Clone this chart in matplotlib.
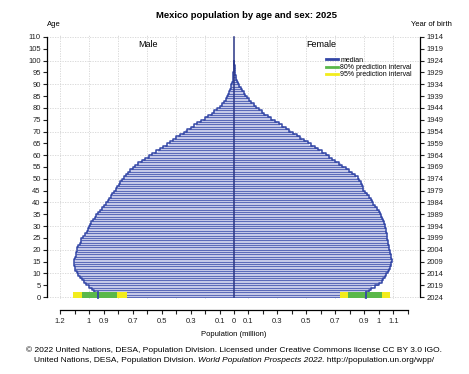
import numpy as np
import matplotlib
matplotlib.use("Agg")
import matplotlib.pyplot as plt
from matplotlib.lines import Line2D

plt.rcParams['font.family'] = ['Liberation Sans', 'DejaVu Sans']

# Population by single year of age 0..100 (millions)
ages = np.arange(0, 101)
male = [0.935, 0.945, 0.955, 0.97, 0.99, 1.01, 1.03, 1.04, 1.06, 1.07,
        1.08, 1.09, 1.097, 1.10, 1.103, 1.103, 1.10, 1.095, 1.09, 1.085,
        1.08, 1.08, 1.07, 1.06, 1.055, 1.05, 1.03, 1.02, 1.009, 1.005,
        1.00, 0.99, 0.98, 0.965, 0.955, 0.945, 0.93, 0.92, 0.905, 0.89,
        0.878, 0.865, 0.855, 0.845, 0.835, 0.82, 0.81, 0.80, 0.79, 0.78,
        0.765, 0.755, 0.74, 0.725, 0.71, 0.69, 0.67, 0.648, 0.625, 0.60,
        0.575, 0.55, 0.525, 0.50, 0.475, 0.45, 0.43, 0.41, 0.385, 0.36,
        0.335, 0.31, 0.29, 0.265, 0.24, 0.215, 0.19, 0.165, 0.145, 0.125,
        0.105, 0.09, 0.076, 0.064, 0.053, 0.045, 0.038, 0.031, 0.025, 0.02,
        0.015, 0.011, 0.008, 0.006, 0.004, 0.003, 0.002, 0.002, 0.001, 0.001,
        0.001]
female = [0.908, 0.915, 0.925, 0.94, 0.955, 0.99, 1.01, 1.025, 1.035, 1.045,
          1.053, 1.065, 1.075, 1.08, 1.085, 1.087, 1.087, 1.085, 1.08, 1.075,
          1.072, 1.07, 1.065, 1.06, 1.058, 1.055, 1.053, 1.052, 1.05, 1.045,
          1.042, 1.04, 1.035, 1.025, 1.018, 1.01, 1.005, 0.99, 0.98, 0.965,
          0.955, 0.95, 0.935, 0.925, 0.915, 0.895, 0.89, 0.885, 0.88, 0.87,
          0.86, 0.845, 0.825, 0.805, 0.785, 0.76, 0.735, 0.71, 0.685, 0.665,
          0.645, 0.62, 0.595, 0.57, 0.545, 0.52, 0.495, 0.47, 0.445, 0.42,
          0.395, 0.37, 0.345, 0.32, 0.295, 0.27, 0.245, 0.22, 0.20, 0.18,
          0.16, 0.145, 0.125, 0.11, 0.095, 0.082, 0.072, 0.06, 0.05, 0.04,
          0.032, 0.025, 0.019, 0.014, 0.01, 0.008, 0.006, 0.004, 0.003, 0.002,
          0.001]

# prediction intervals for age 0 (low, high)
male_80 = [0.81, 1.046]
male_95 = [0.74, 1.108]
female_80 = [0.788, 1.018]
female_95 = [0.73, 1.076]

x_ticks = np.round(np.arange(-1.2, 1.21, 0.1), 1)
x_labels = {-1.2: "1.2", -1.0: "1", -0.9: "0.9", -0.7: "0.7", -0.5: "0.5",
            -0.3: "0.3", -0.1: "0.1", 0.0: "0", 0.1: "0.1", 0.3: "0.3",
            0.5: "0.5", 0.7: "0.7", 0.9: "0.9", 1.0: "1", 1.1: "1.1"}
age_ticks = np.arange(0, 111, 5)
year_labels = [str(2024 - a) for a in age_ticks]

navy = "#3346a6"
lav = "#c4c8e8"
green = "#5ab84a"
yellow = "#f2ec1c"

fig = plt.figure(figsize=(4.69, 3.74), dpi=100)
ax = fig.add_axes([0.1002, 0.1995, 0.7953, 0.708])

male = np.array(male)
female = np.array(female)

# grid
for gx in [-1.2, -1.0, -0.8, -0.6, -0.4, -0.2, 0.1, 0.3, 0.5, 0.7, 0.9, 1.1]:
    ax.axvline(gx, color="#d4d4d4", lw=0.6, ls=(0, (1.5, 1.5)), zorder=0)
for gy in range(0, 111, 10):
    ax.axhline(gy, color="#d4d4d4", lw=0.6, ls=(0, (1.5, 1.5)), zorder=0)

# bars
ax.barh(ages, -male, height=1.0, color=lav, edgecolor="none", zorder=1)
ax.barh(ages, female, height=1.0, color=lav, edgecolor="none", zorder=1)
ax.hlines(ages, -male, female, color=navy, lw=0.6, alpha=0.85, zorder=2)

# median outline
ax.step(-male, ages, where="mid", color=navy, lw=1.1, zorder=3)
ax.step(female, ages, where="mid", color=navy, lw=1.1, zorder=3)
ax.plot([0, 0], [0, 110], color="#2a3585", lw=1.1, zorder=4)

# prediction intervals at age 0
yc, hh = 0.85, 2.6
ax.barh(yc, male_95[1] - male_95[0], left=-male_95[1], height=hh, color=yellow, zorder=5)
ax.barh(yc, male_80[1] - male_80[0], left=-male_80[1], height=hh, color=green, zorder=6)
ax.barh(yc, female_95[1] - female_95[0], left=female_95[0], height=hh, color=yellow, zorder=5)
ax.barh(yc, female_80[1] - female_80[0], left=female_80[0], height=hh, color=green, zorder=6)
ax.plot([-male[0], -male[0]], [-0.4, 2.1], color=navy, lw=1.3, zorder=7)
ax.plot([female[0], female[0]], [-0.4, 2.1], color=navy, lw=1.3, zorder=7)

ax.set_xlim(-1.29, 1.283)
ax.set_ylim(-1, 111)

# axes styling
ax.spines['top'].set_visible(False)
ax.spines['right'].set_visible(False)
ax.spines['left'].set_bounds(0, 110)
ax.spines['bottom'].set_bounds(-1.2, 1.2)
ax.spines['bottom'].set_position(('outward', 7.5))
for s in ['left', 'bottom']:
    ax.spines[s].set_linewidth(0.9)

ax.set_xticks(x_ticks)
ax.set_xticklabels([x_labels.get(float(t), "") for t in x_ticks])
ax.set_yticks(age_ticks)
ax.tick_params(axis='both', labelsize=5.5, length=3, width=0.8, pad=1.5, colors="#222222")
ax.tick_params(axis='x', pad=3)

ax2 = ax.twinx()
ax2.set_ylim(ax.get_ylim())
for s in ['top', 'left', 'bottom']:
    ax2.spines[s].set_visible(False)
ax2.spines['right'].set_bounds(0, 110)
ax2.spines['right'].set_linewidth(0.9)
ax2.set_yticks(age_ticks)
ax2.set_yticklabels(year_labels)
ax2.tick_params(axis='y', labelsize=5.5, length=3, width=0.8, pad=1.5, colors="#222222")

ax.set_xlabel("Population (million)", fontsize=5.5, labelpad=4)

fig.text(47 / 469, 1 - 25 / 374, "Age", fontsize=5.5, ha="left", va="center")
fig.text(452 / 469, 1 - 25 / 374, "Year of birth", fontsize=5.5, ha="right", va="center")
fig.text(247 / 469, 1 - 16 / 374, "Mexico population by age and sex: 2025",
         fontsize=6.8, fontweight="bold", ha="center", va="center")
ax.text(-0.59, 107, "Male", fontsize=6.5, ha="center", va="center")
ax.text(0.6, 107, "Female", fontsize=6.5, ha="center", va="center")

# legend
handles = [Line2D([], [], color=navy, lw=2),
           Line2D([], [], color=green, lw=2),
           Line2D([], [], color=yellow, lw=2)]
ax.legend(handles, ["median", "80% prediction interval", "95% prediction interval"],
          loc="upper left", bbox_to_anchor=(0.74, 0.93), frameon=False, fontsize=5,
          handlelength=1.6, handletextpad=0.4, labelspacing=0.05, borderpad=0)

# caption
fig.text(234 / 469, 1 - 350 / 374,
         "\u00a9 2022 United Nations, DESA, Population Division. Licensed under Creative Commons license CC BY 3.0 IGO.",
         fontsize=6, ha="center", va="center")
fig.canvas.draw()
r = fig.canvas.get_renderer()
parts = [("United Nations, DESA, Population Division. ", "normal"),
         ("World Population Prospects 2022", "italic"),
         (". http://population.un.org/wpp/", "normal")]
widths = []
for txt, st in parts:
    t = fig.text(0, 0, txt, fontsize=6, style=st)
    widths.append(t.get_window_extent(r).width)
    t.remove()
x0 = 234 - sum(widths) / 2
for (txt, st), w in zip(parts, widths):
    fig.text(x0 / 469, 1 - 361 / 374, txt, fontsize=6, style=st, ha="left", va="center")
    x0 += w

fig.savefig("out.png", dpi=100)
